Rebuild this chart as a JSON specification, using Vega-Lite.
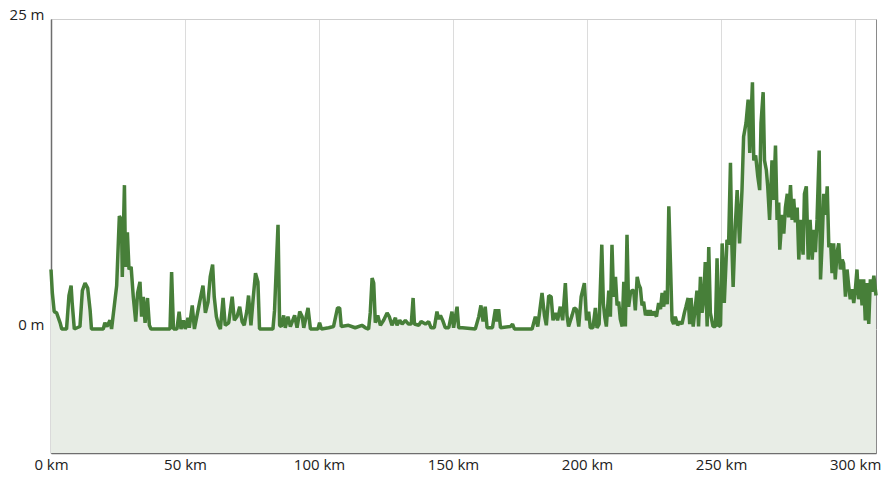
{
  "$schema": "https://vega.github.io/schema/vega-lite/v6.json",
  "width": 825,
  "height": 434,
  "autosize": {"type": "none"},
  "padding": {"left": 51, "top": 19, "right": 7, "bottom": 27},
  "background": "#ffffff",
  "config": {
    "view": {"stroke": "#8a8a8a", "strokeWidth": 1},
    "font": "Open Sans",
    "axis": {
      "labelFont": "Open Sans",
      "labelFontSize": 15,
      "labelColor": "#222222",
      "ticks": false,
      "domainColor": "#6e6e6e",
      "domainWidth": 1.5,
      "title": null
    }
  },
  "data": {
    "values": [
      {"d": 0, "e": 4.8}, {"d": 0.5, "e": 2.9}, {"d": 1.2, "e": 1.4}, {"d": 2.1, "e": 1.3}, {"d": 3.4, "e": 0.5}, {"d": 4.0, "e": 0},
      {"d": 5.8, "e": 0}, {"d": 6.7, "e": 2.7}, {"d": 7.5, "e": 3.5}, {"d": 7.9, "e": 2.1}, {"d": 8.7, "e": 0}, {"d": 10.8, "e": 0.2},
      {"d": 11.7, "e": 3.1}, {"d": 12.7, "e": 3.7}, {"d": 13.7, "e": 3.3}, {"d": 14.6, "e": 1.5}, {"d": 15.1, "e": 0}, {"d": 19.5, "e": 0},
      {"d": 20.1, "e": 0.5}, {"d": 20.9, "e": 0.2}, {"d": 22.0, "e": 0.7}, {"d": 22.6, "e": 0}, {"d": 24.5, "e": 3.5}, {"d": 25.5, "e": 9.1},
      {"d": 26.3, "e": 8.8}, {"d": 26.6, "e": 4.2}, {"d": 27.4, "e": 11.6}, {"d": 27.8, "e": 5.0}, {"d": 28.5, "e": 7.8}, {"d": 29.1, "e": 4.8},
      {"d": 29.9, "e": 5.0}, {"d": 30.7, "e": 2.6}, {"d": 31.6, "e": 0.6}, {"d": 32.3, "e": 2.9}, {"d": 33.2, "e": 3.8}, {"d": 33.8, "e": 1.0},
      {"d": 34.4, "e": 2.6}, {"d": 35.1, "e": 0.5}, {"d": 36.0, "e": 2.5}, {"d": 36.7, "e": 0.3}, {"d": 37.3, "e": 0}, {"d": 44.4, "e": 0},
      {"d": 45.0, "e": 4.6}, {"d": 45.7, "e": 0}, {"d": 47.0, "e": 0}, {"d": 47.8, "e": 1.4}, {"d": 48.5, "e": 0}, {"d": 49.4, "e": 0.7},
      {"d": 50.1, "e": 0}, {"d": 51.1, "e": 0.9}, {"d": 51.6, "e": 0.1}, {"d": 52.7, "e": 1.9}, {"d": 53.5, "e": 0}, {"d": 55.4, "e": 2.1},
      {"d": 56.7, "e": 3.5}, {"d": 57.6, "e": 1.3}, {"d": 58.6, "e": 2.2}, {"d": 59.4, "e": 4.2}, {"d": 60.3, "e": 5.2}, {"d": 60.9, "e": 2.6},
      {"d": 61.7, "e": 1.0}, {"d": 62.5, "e": 0.3}, {"d": 63.2, "e": 0}, {"d": 64.2, "e": 2.5}, {"d": 65.0, "e": 0.3}, {"d": 66.3, "e": 0.5},
      {"d": 67.6, "e": 2.6}, {"d": 68.4, "e": 0.7}, {"d": 69.4, "e": 1.0}, {"d": 70.4, "e": 1.8}, {"d": 71.3, "e": 0.6}, {"d": 72.1, "e": 0.3},
      {"d": 73.1, "e": 1.5}, {"d": 73.7, "e": 2.7}, {"d": 74.6, "e": 0.3}, {"d": 75.4, "e": 2.4}, {"d": 76.3, "e": 4.5}, {"d": 77.2, "e": 3.8},
      {"d": 77.8, "e": 0}, {"d": 82.8, "e": 0}, {"d": 83.4, "e": 1.5}, {"d": 84.7, "e": 8.4}, {"d": 85.3, "e": 0.3}, {"d": 85.9, "e": 0.2},
      {"d": 86.8, "e": 1.1}, {"d": 87.4, "e": 0.1}, {"d": 88.4, "e": 1.0}, {"d": 89.3, "e": 0.2}, {"d": 90.9, "e": 1.1}, {"d": 91.8, "e": 0.1},
      {"d": 92.8, "e": 1.4}, {"d": 93.7, "e": 1.0}, {"d": 94.3, "e": 0.1}, {"d": 95.9, "e": 1.7}, {"d": 96.8, "e": 0}, {"d": 99.6, "e": 0},
      {"d": 100.2, "e": 0.5}, {"d": 100.9, "e": 0}, {"d": 103.6, "e": 0.1}, {"d": 105.4, "e": 0.2}, {"d": 106.9, "e": 1.7}, {"d": 107.7, "e": 1.7},
      {"d": 108.3, "e": 0.2}, {"d": 111.0, "e": 0.3}, {"d": 113.5, "e": 0.1}, {"d": 116.0, "e": 0.3}, {"d": 117.3, "e": 0.1}, {"d": 118.5, "e": 0},
      {"d": 119.1, "e": 1.3}, {"d": 119.8, "e": 4.1}, {"d": 120.4, "e": 3.7}, {"d": 121.0, "e": 0.5}, {"d": 121.9, "e": 1.1}, {"d": 122.9, "e": 0.3},
      {"d": 124.1, "e": 0.7}, {"d": 125.4, "e": 1.3}, {"d": 126.2, "e": 1.0}, {"d": 127.2, "e": 0.3}, {"d": 128.5, "e": 0.9}, {"d": 129.1, "e": 0.3},
      {"d": 130.1, "e": 0.7}, {"d": 131.0, "e": 0.4}, {"d": 132.2, "e": 0.7}, {"d": 133.4, "e": 0.4}, {"d": 134.4, "e": 0.4}, {"d": 135.1, "e": 2.5},
      {"d": 135.6, "e": 0.4}, {"d": 137.2, "e": 0.3}, {"d": 138.1, "e": 0.6}, {"d": 139.7, "e": 0.4}, {"d": 140.9, "e": 0.6}, {"d": 141.8, "e": 0.1},
      {"d": 143.0, "e": 0.1}, {"d": 144.0, "e": 1.4}, {"d": 144.6, "e": 0.8}, {"d": 145.3, "e": 1.1}, {"d": 146.3, "e": 0.6}, {"d": 147.1, "e": 0.1},
      {"d": 148.4, "e": 0.1}, {"d": 149.6, "e": 1.4}, {"d": 150.2, "e": 0.1}, {"d": 151.5, "e": 1.8}, {"d": 152.1, "e": 0.1}, {"d": 153.5, "e": 0.1},
      {"d": 158.3, "e": 0}, {"d": 159.6, "e": 1.0}, {"d": 160.4, "e": 1.9}, {"d": 161.2, "e": 0.6}, {"d": 162.0, "e": 1.8}, {"d": 162.7, "e": 0.1},
      {"d": 164.7, "e": 0.1}, {"d": 165.8, "e": 1.6}, {"d": 166.4, "e": 0.6}, {"d": 167.0, "e": 1.6}, {"d": 167.7, "e": 0.1}, {"d": 171.4, "e": 0.2},
      {"d": 172.2, "e": 0.4}, {"d": 172.9, "e": 0}, {"d": 179.5, "e": 0}, {"d": 180.7, "e": 1.0}, {"d": 181.6, "e": 0.2}, {"d": 183.2, "e": 2.9},
      {"d": 184.1, "e": 1.1}, {"d": 184.8, "e": 0.3}, {"d": 185.7, "e": 2.7}, {"d": 186.6, "e": 2.6}, {"d": 187.3, "e": 0.7}, {"d": 188.2, "e": 1.3},
      {"d": 189.0, "e": 0.7}, {"d": 190.0, "e": 1.8}, {"d": 190.9, "e": 0.7}, {"d": 191.9, "e": 3.7}, {"d": 192.5, "e": 1.1}, {"d": 193.1, "e": 0.2},
      {"d": 194.4, "e": 1.1}, {"d": 195.2, "e": 1.7}, {"d": 196.0, "e": 1.6}, {"d": 196.9, "e": 0.2}, {"d": 197.8, "e": 2.6}, {"d": 199.0, "e": 3.7},
      {"d": 199.8, "e": 0.7}, {"d": 200.6, "e": 1.4}, {"d": 201.2, "e": 0.1}, {"d": 202.2, "e": 0.1}, {"d": 203.1, "e": 1.7}, {"d": 203.7, "e": 0.1},
      {"d": 204.5, "e": 0.4}, {"d": 205.5, "e": 6.8}, {"d": 206.1, "e": 2.0}, {"d": 206.6, "e": 1.0}, {"d": 207.2, "e": 0.2}, {"d": 208.1, "e": 3.1},
      {"d": 208.7, "e": 1.0}, {"d": 209.3, "e": 6.8}, {"d": 209.9, "e": 2.6}, {"d": 210.6, "e": 4.2}, {"d": 211.2, "e": 1.9}, {"d": 211.8, "e": 2.2},
      {"d": 212.4, "e": 0.8}, {"d": 213.1, "e": 0.2}, {"d": 213.7, "e": 3.8}, {"d": 214.3, "e": 0.2}, {"d": 214.9, "e": 7.6}, {"d": 215.5, "e": 1.8},
      {"d": 216.2, "e": 2.9}, {"d": 216.8, "e": 3.1}, {"d": 217.4, "e": 3.1}, {"d": 218.0, "e": 1.5}, {"d": 218.7, "e": 4.2}, {"d": 219.3, "e": 3.6},
      {"d": 219.9, "e": 3.3}, {"d": 220.5, "e": 1.9}, {"d": 221.1, "e": 2.2}, {"d": 221.8, "e": 1.1}, {"d": 222.4, "e": 1.5}, {"d": 223.0, "e": 1.1},
      {"d": 223.6, "e": 1.5}, {"d": 224.3, "e": 1.1}, {"d": 224.9, "e": 1.4}, {"d": 225.9, "e": 1.0}, {"d": 226.7, "e": 2.1}, {"d": 227.4, "e": 1.6},
      {"d": 228.0, "e": 2.9}, {"d": 228.6, "e": 1.8}, {"d": 229.2, "e": 3.1}, {"d": 229.9, "e": 2.0}, {"d": 230.5, "e": 9.9}, {"d": 231.1, "e": 5.4},
      {"d": 231.7, "e": 0.7}, {"d": 232.3, "e": 0.4}, {"d": 232.9, "e": 1.0}, {"d": 233.8, "e": 0.3}, {"d": 234.6, "e": 0.6}, {"d": 235.4, "e": 0.4},
      {"d": 236.3, "e": 1.3}, {"d": 236.9, "e": 1.8}, {"d": 237.7, "e": 2.5}, {"d": 238.3, "e": 0.4}, {"d": 238.8, "e": 2.5}, {"d": 239.6, "e": 0.2},
      {"d": 240.4, "e": 1.8}, {"d": 241.0, "e": 3.1}, {"d": 241.6, "e": 0.2}, {"d": 242.3, "e": 4.2}, {"d": 242.9, "e": 1.3}, {"d": 243.5, "e": 2.4},
      {"d": 244.1, "e": 5.4}, {"d": 244.8, "e": 0.2}, {"d": 245.4, "e": 6.6}, {"d": 246.0, "e": 1.3}, {"d": 247.0, "e": 0.2}, {"d": 247.9, "e": 0.2},
      {"d": 248.5, "e": 5.7}, {"d": 249.1, "e": 0.2}, {"d": 249.8, "e": 0.3}, {"d": 250.4, "e": 6.9}, {"d": 250.9, "e": 4.0}, {"d": 251.2, "e": 2.1},
      {"d": 252.2, "e": 7.2}, {"d": 252.8, "e": 6.8}, {"d": 253.5, "e": 13.4}, {"d": 254.0, "e": 7.0}, {"d": 254.5, "e": 3.4}, {"d": 255.3, "e": 8.3},
      {"d": 256.0, "e": 11.2}, {"d": 256.9, "e": 6.9}, {"d": 257.8, "e": 11.2}, {"d": 258.4, "e": 15.5}, {"d": 259.3, "e": 16.6}, {"d": 260.1, "e": 18.5},
      {"d": 260.7, "e": 14.2}, {"d": 261.7, "e": 19.9}, {"d": 262.2, "e": 13.6}, {"d": 262.9, "e": 14.0}, {"d": 263.7, "e": 12.3}, {"d": 264.4, "e": 11.2},
      {"d": 264.9, "e": 16.6}, {"d": 265.7, "e": 19.1}, {"d": 266.2, "e": 13.6}, {"d": 266.9, "e": 12.8}, {"d": 267.4, "e": 11.5}, {"d": 268.1, "e": 8.8},
      {"d": 269.0, "e": 13.6}, {"d": 269.6, "e": 10.4}, {"d": 270.3, "e": 14.8}, {"d": 270.9, "e": 8.8}, {"d": 271.5, "e": 10.2}, {"d": 271.9, "e": 6.4},
      {"d": 272.8, "e": 9.2}, {"d": 273.4, "e": 7.7}, {"d": 274.0, "e": 9.8}, {"d": 274.7, "e": 10.9}, {"d": 275.2, "e": 9.0}, {"d": 275.9, "e": 11.6},
      {"d": 276.5, "e": 8.8}, {"d": 277.1, "e": 10.5}, {"d": 277.7, "e": 8.6}, {"d": 278.4, "e": 9.8}, {"d": 279.0, "e": 5.6}, {"d": 279.6, "e": 8.8},
      {"d": 280.6, "e": 6.0}, {"d": 281.1, "e": 10.9}, {"d": 281.8, "e": 11.5}, {"d": 282.5, "e": 5.6}, {"d": 283.2, "e": 8.8}, {"d": 284.0, "e": 5.6},
      {"d": 284.6, "e": 8.0}, {"d": 285.2, "e": 6.2}, {"d": 285.8, "e": 8.8}, {"d": 286.6, "e": 14.4}, {"d": 287.1, "e": 4.0}, {"d": 287.7, "e": 6.9},
      {"d": 288.3, "e": 10.9}, {"d": 289.0, "e": 9.2}, {"d": 289.6, "e": 11.5}, {"d": 290.2, "e": 6.6}, {"d": 290.9, "e": 6.9}, {"d": 291.4, "e": 4.5},
      {"d": 292.0, "e": 6.9}, {"d": 292.6, "e": 4.0}, {"d": 293.3, "e": 6.2}, {"d": 293.9, "e": 6.9}, {"d": 294.5, "e": 4.8}, {"d": 295.2, "e": 5.6},
      {"d": 295.7, "e": 5.3}, {"d": 296.4, "e": 2.6}, {"d": 297.0, "e": 4.8}, {"d": 297.6, "e": 3.5}, {"d": 298.2, "e": 2.4}, {"d": 298.9, "e": 3.2},
      {"d": 299.5, "e": 2.1}, {"d": 300.1, "e": 3.2}, {"d": 300.7, "e": 4.8}, {"d": 301.3, "e": 2.4}, {"d": 302.0, "e": 4.0}, {"d": 302.6, "e": 1.9},
      {"d": 303.2, "e": 4.0}, {"d": 303.8, "e": 0.7}, {"d": 304.5, "e": 3.7}, {"d": 305.1, "e": 0.4}, {"d": 305.7, "e": 4.0}, {"d": 306.3, "e": 3.0},
      {"d": 307.0, "e": 4.3}, {"d": 307.8, "e": 2.7}
    ]
  },
  "encoding": {
    "x": {
      "field": "d",
      "type": "quantitative",
      "scale": {"domain": [0, 307.8], "nice": false, "zero": false},
      "axis": {
        "values": [0, 50, 100, 150, 200, 250, 300],
        "labelExpr": "datum.value + ' km'",
        "grid": true,
        "gridColor": "#dcdcdc",
        "labelPadding": 4,
        "labelFlush": false,
        "labelOverlap": false
      }
    },
    "y": {
      "field": "e",
      "type": "quantitative",
      "scale": {"domain": [-10, 25], "nice": false, "zero": false},
      "axis": {
        "values": [0, 25],
        "labelExpr": "datum.value + ' m'",
        "grid": true,
        "gridColor": "#cfcfcf",
        "labelBaseline": "alphabetic",
        "labelPadding": 7,
        "labelFlush": false
      }
    }
  },
  "layer": [
    {
      "mark": {"type": "area", "color": "#e8ede6", "opacity": 1},
      "encoding": {"y2": {"datum": -10}}
    },
    {
      "mark": {"type": "line", "color": "#477f39", "strokeWidth": 3.5, "strokeJoin": "bevel"}
    }
  ]
}
